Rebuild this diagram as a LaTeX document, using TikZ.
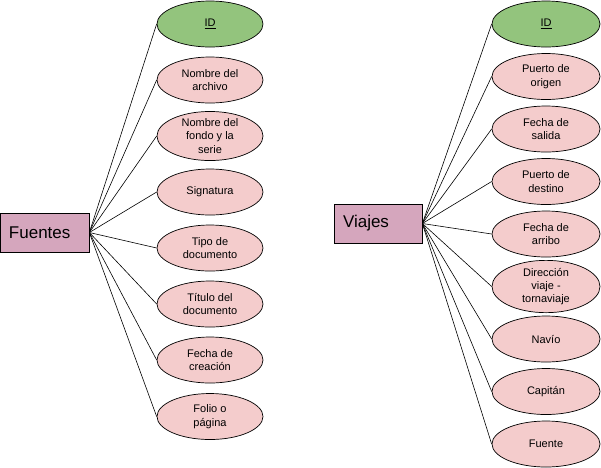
\documentclass[tikz,border=0pt]{standalone}
\usepackage{fontspec}
\setmainfont{Liberation Sans}
\definecolor{G}{HTML}{93C47D}
\definecolor{P}{HTML}{F4CCCC}
\definecolor{M}{HTML}{D5A6BD}
\usetikzlibrary{arrows}
\usetikzlibrary{positioning}
\tikzstyle{base}=[x=1pt, y=-1pt, line width=0.7pt]
\tikzstyle{entity}=[draw=black, fill=M, rectangle, minimum height=39pt, text width=71pt, inner xsep=9pt, inner ysep=0pt, align=left, font=\fontsize{17}{20}\selectfont]
\tikzstyle{attr}=[draw=black, fill=P, ellipse, minimum width=106pt, minimum height=46pt, inner sep=0pt, align=center, font=\fontsize{11}{13.3}\selectfont]
\tikzstyle{key}=[attr, fill=G]
\tikzstyle{link}=[draw=black, line width=0.6pt]
\usetikzlibrary{shapes.geometric}

\begin{document}
\begin{tikzpicture}[base]
    \useasboundingbox (0,0) rectangle (601,467);
    % Fuentes
    \node [entity] (F) at (44.5,232.5) {Fuentes};
    \node [key] (F1) at (210,24) {\underline{ID}};
    \node [attr] (F2) at (210,80) {Nombre del\\archivo};
    \node [attr] (F3) at (210,136) {Nombre del\\fondo y la\\serie};
    \node [attr] (F4) at (210,192) {Signatura};
    \node [attr] (F5) at (210,248) {Tipo de\\documento};
    \node [attr] (F6) at (210,304) {Título del\\documento};
    \node [attr] (F7) at (210,360) {Fecha de\\creación};
    \node [attr] (F8) at (210,416.5) {Folio o\\página};
    \foreach \i in {1,...,8}
        \draw [link] (F.east) -- (F\i.west);
    % Viajes
    \node [entity, text width=70pt] (V) at (378,223.5) {Viajes};
    \node [key, minimum width=108pt] (V1) at (546,24) {\underline{ID}};
    \node [attr, minimum width=108pt] (V2) at (546,76.5) {Puerto de\\origen};
    \node [attr, minimum width=108pt] (V3) at (546,129) {Fecha de\\salida};
    \node [attr, minimum width=108pt] (V4) at (546,181.5) {Puerto de\\destino};
    \node [attr, minimum width=108pt] (V5) at (546,234) {Fecha de\\arribo};
    \node [attr, minimum width=108pt] (V6) at (546,286.5) {Dirección\\viaje -\\tornaviaje};
    \node [attr, minimum width=108pt] (V7) at (546,339) {Navío};
    \node [attr, minimum width=108pt] (V8) at (546,391.5) {Capitán};
    \node [attr, minimum width=108pt] (V9) at (546,444) {Fuente};
    \foreach \i in {1,...,9}
        \draw [link] (V.east) -- (V\i.west);
\end{tikzpicture}
\end{document}
